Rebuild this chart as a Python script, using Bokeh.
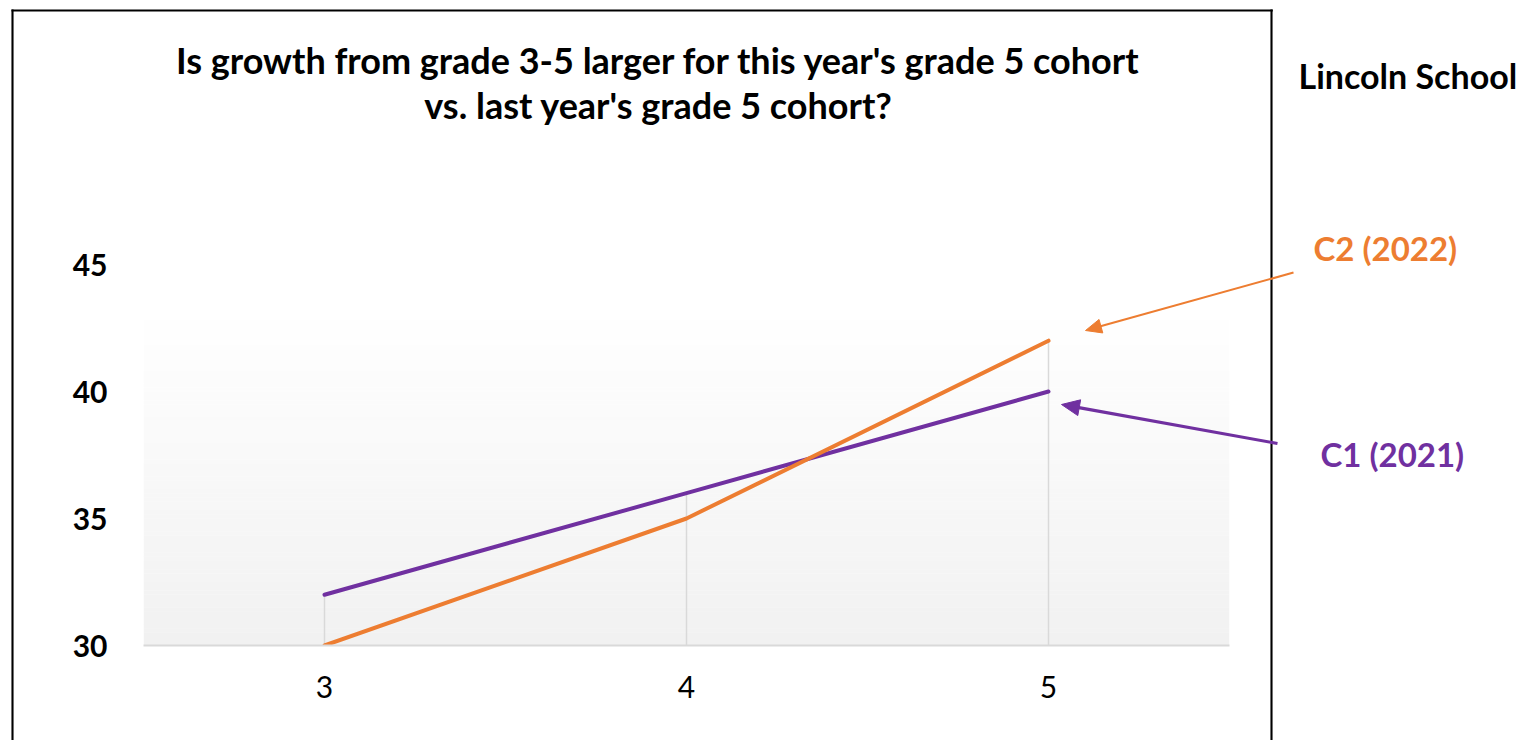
import math
from bokeh.plotting import figure
from bokeh.models import Label, PolyAnnotation, Range1d, FixedTicker
from bokeh.embed import file_html
from bokeh.resources import INLINE

# ---- data ----
grades = [3, 4, 5]
c1_2021 = [32, 36, 40]
c2_2022 = [30, 35, 42]
y_ticks = [30, 35, 40, 45]
x_ticks = [3, 4, 5]

title_lines = ["Is growth from grade 3-5 larger for this year's grade 5 cohort",
               "vs. last year's grade 5 cohort?"]
school = "Lincoln School"
label_c1 = "C1 (2021)"
label_c2 = "C2 (2022)"

ORANGE = "#ED7D31"
PURPLE = "#7030A0"
GRID = "#d9d9d9"
FONT = "Lato"

W, H = 1520, 740
FL, FT, FW, FH = 143, 264, 1086, 381
X0, X1, Y0, Y1 = 2.5, 5.5, 30, 45

p = figure(width=W, height=H, output_backend="svg", toolbar_location=None,
           x_range=Range1d(X0, X1), y_range=Range1d(Y0, Y1),
           frame_width=FW, frame_height=FH,
           min_border_left=FL, min_border_right=W - FL - FW,
           min_border_top=FT, min_border_bottom=H - FT - FH)
p.outline_line_color = None
p.background_fill_color = "white"
p.border_fill_color = "white"
p.grid.visible = False


def py_data(yp):
    return Y1 - (yp - FT) / FH * (Y1 - Y0)


# gradient plot-area background (decoration)
n = 80
g_top = py_data(307)
for i in range(n):
    b = Y0 + (g_top - Y0) * i / n
    t = Y0 + (g_top - Y0) * (i + 1) / n
    f = i / (n - 1)
    v = int(round(0xf1 + (0xff - 0xf1) * f))
    p.quad(left=X0, right=X1, bottom=b, top=t + 0.01,
           fill_color="#%02x%02x%02x" % (v, v, v), line_color=None)

# drop lines
p.segment(x0=grades, y0=[Y0] * 3, x1=grades,
          y1=[max(a, b) for a, b in zip(c1_2021, c2_2022)],
          line_color=GRID, line_width=1.5)

p.line(grades, c1_2021, line_color=PURPLE, line_width=4, line_cap="round")
p.line(grades, c2_2022, line_color=ORANGE, line_width=4, line_cap="round")

# axes
p.xaxis.ticker = FixedTicker(ticks=x_ticks)
p.yaxis.ticker = FixedTicker(ticks=y_ticks)
for ax in (p.xaxis[0], p.yaxis[0]):
    ax.major_tick_line_color = None
    ax.minor_tick_line_color = None
    ax.major_label_text_font = FONT
    ax.major_label_text_color = "black"
    ax.major_label_text_font_size = "30px"
p.yaxis.axis_line_color = None
p.yaxis.major_label_standoff = 30
p.yaxis.major_label_text_font_style = "bold"
p.xaxis.axis_line_color = GRID
p.xaxis.axis_line_width = 2
p.xaxis.major_label_standoff = 24

annotations = []


def bar(x0, y0, x1, y1, color, width):
    """a straight stroke drawn as a rotated, padded, empty label box"""
    dx, dy = x1 - x0, y1 - y0
    length = int(round(math.hypot(dx, dy)))
    ang = math.atan2(-dy, dx)
    pad = max(0, int(round(width)) - 1)
    top = pad // 2
    return Label(x=x0, y=y0, x_units="canvas", y_units="canvas", text=" ",
                 text_font_size="1px", text_align="left", text_baseline="middle",
                 angle=ang, padding=(0, length, top, pad - top),
                 background_fill_color=color, background_fill_alpha=1.0)


def arrow(x0, y0, x1, y1, color, width, head_len, head_w):
    dx, dy = x1 - x0, y1 - y0
    d = math.hypot(dx, dy)
    ux, uy = dx / d, dy / d
    bx, by = x1 - ux * (head_len - 2), y1 - uy * (head_len - 2)
    hx, hy = x1 - ux * head_len, y1 - uy * head_len
    nx, ny = -uy, ux
    out = [bar(x0, y0, bx, by, color, width)]
    out.append(PolyAnnotation(xs=[x1, hx + nx * head_w / 2, hx - nx * head_w / 2],
                              ys=[y1, hy + ny * head_w / 2, hy - ny * head_w / 2],
                              xs_units="canvas", ys_units="canvas",
                              line_color=color, line_alpha=1.0, line_width=1,
                              fill_color=color, fill_alpha=1.0))
    return out


# border box (open at the bottom, below the window)
annotations.append(bar(11, 10, 1272, 10, "black", 2))
annotations.append(bar(12, 9, 12, 760, "black", 2))
annotations.append(bar(1271, 9, 1271, 760, "black", 2))

# title
for txt, yc in zip(title_lines, [59, 104]):
    annotations.append(Label(x=658, y=yc, x_units="canvas", y_units="canvas",
                             text=txt, text_align="center",
                             text_baseline="middle", text_font=FONT,
                             text_font_style="bold", text_font_size="36px",
                             text_color="black"))

annotations.append(Label(x=1298, y=75, x_units="canvas", y_units="canvas",
                         text=school, text_align="left",
                         text_baseline="middle", text_font=FONT, text_font_style="bold",
                         text_font_size="34px", text_color="black"))
annotations.append(Label(x=1313, y=247, x_units="canvas", y_units="canvas",
                         text=label_c2, text_align="left",
                         text_baseline="middle", text_font=FONT, text_font_style="bold",
                         text_font_size="33px", text_color=ORANGE))
annotations.append(Label(x=1320, y=453, x_units="canvas", y_units="canvas",
                         text=label_c1, text_align="left",
                         text_baseline="middle", text_font=FONT, text_font_style="bold",
                         text_font_size="33px", text_color=PURPLE))

annotations += arrow(1293, 272, 1085, 330, ORANGE, 2, 16, 14)
annotations += arrow(1277, 443, 1061, 404, PURPLE, 3, 18, 16)

for a in annotations:
    p.add_layout(a, "above")

open("out.html", "w").write(file_html(p, INLINE))
